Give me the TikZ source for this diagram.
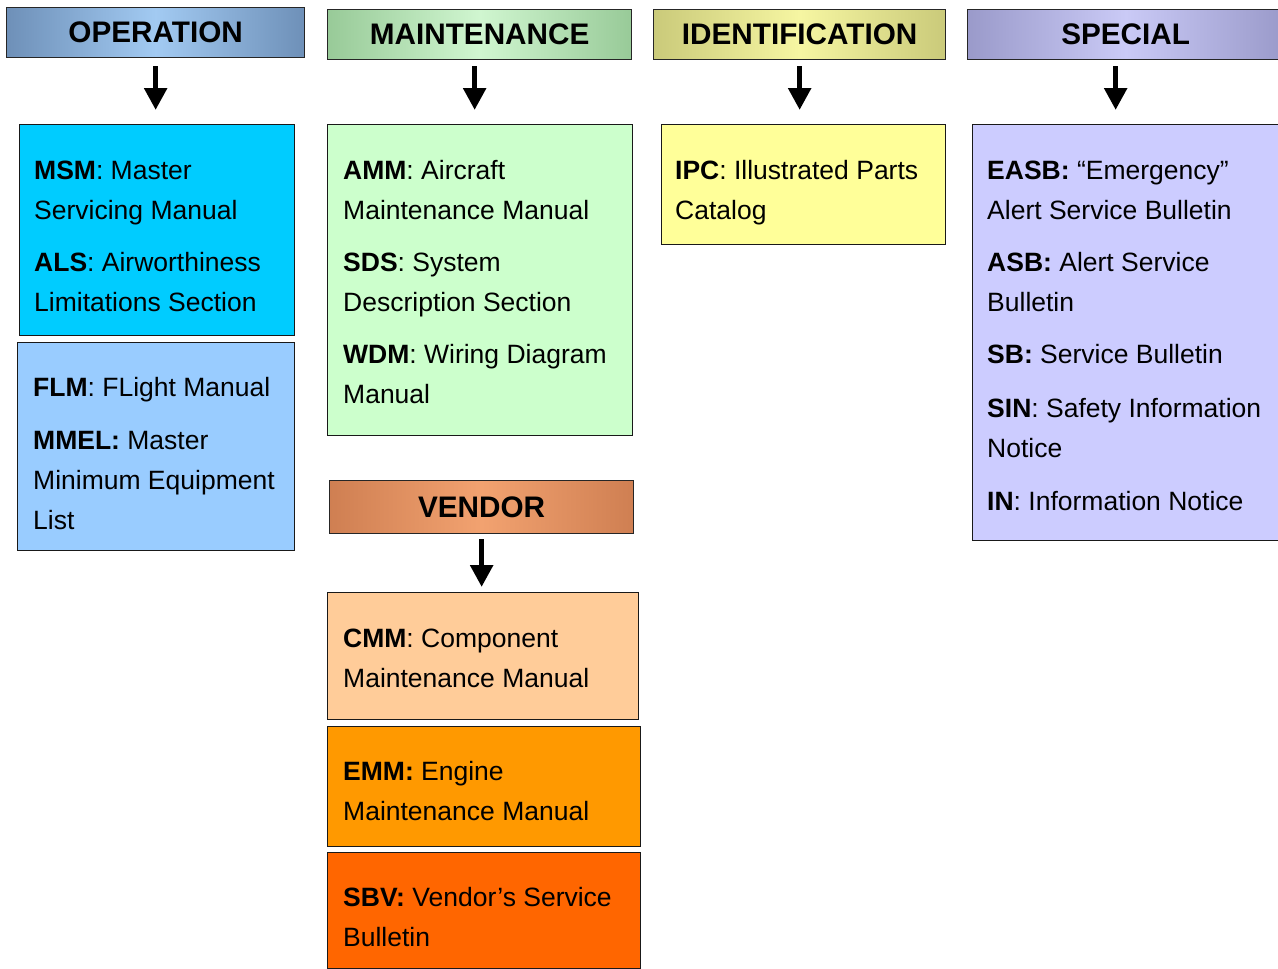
\documentclass[tikz,border=0pt]{standalone}
\usepackage{fontspec}
\setmainfont{Liberation Sans}
\usetikzlibrary{arrows.meta}
\definecolor{opE}{RGB}{110,144,184}
\definecolor{opM}{RGB}{162,202,242}
\definecolor{maE}{RGB}{152,202,152}
\definecolor{maM}{RGB}{208,246,208}
\definecolor{idE}{RGB}{202,202,122}
\definecolor{idM}{RGB}{246,246,162}
\definecolor{spE}{RGB}{154,154,202}
\definecolor{spM}{RGB}{202,202,246}
\definecolor{veE}{RGB}{207,127,82}
\definecolor{veM}{RGB}{242,162,112}
\definecolor{cMSM}{HTML}{00CCFF}
\definecolor{cFLM}{HTML}{99CCFF}
\definecolor{cAMM}{HTML}{CCFFCC}
\definecolor{cIPC}{HTML}{FFFF99}
\definecolor{cEASB}{HTML}{CCCCFF}
\definecolor{cCMM}{HTML}{FFCC99}
\definecolor{cEMM}{HTML}{FF9900}
\definecolor{cSBV}{HTML}{FF6600}
\begin{document}
\begin{tikzpicture}[x=1pt,y=-1pt]
\tikzset{
  hdr/.style={draw=black!85, line width=1.3pt, anchor=north west, inner sep=0pt,
    font=\fontsize{29.7}{32}\selectfont\bfseries, text=black},
  box/.style={draw=black!90, line width=1.3pt, anchor=north west, inner sep=0pt},
  txt/.style={anchor=north west, inner sep=0pt, align=left,
    font=\fontsize{26.5}{40}\selectfont},
  arr/.style={line width=5.5pt, -{Triangle[width=22pt,length=22pt]}},
}
\clip (0,0) rectangle (1278,969);
\fill[white] (0,0) rectangle (1278,969);
% headers
\node[hdr, minimum width=298pt, minimum height=50pt, left color=opE, right color=opE, middle color=opM] (hop) at (6,7) {OPERATION};
\node[hdr, minimum width=304pt, minimum height=50pt, left color=maE, right color=maE, middle color=maM] (hma) at (327,9) {MAINTENANCE};
\node[hdr, minimum width=292pt, minimum height=50pt, left color=idE, right color=idE, middle color=idM] (hid) at (653,9) {IDENTIFICATION};
\node[hdr, minimum width=316pt, minimum height=50pt, left color=spE, right color=spE, middle color=spM] (hsp) at (967,9) {SPECIAL};
\node[hdr, minimum width=304pt, minimum height=53pt, left color=veE, right color=veE, middle color=veM] (hve) at (329,480) {VENDOR};
% boxes
\node[box, fill=cMSM, minimum width=275pt, minimum height=211pt] (bmsm) at (19,124) {};
\node[box, fill=cFLM, minimum width=277pt, minimum height=208pt] (bflm) at (17,342) {};
\node[box, fill=cAMM, minimum width=305pt, minimum height=311pt] (bamm) at (327,124) {};
\node[box, fill=cIPC, minimum width=284pt, minimum height=120pt] (bipc) at (661,124) {};
\node[box, fill=cEASB, minimum width=320pt, minimum height=416pt] (beasb) at (972,124) {};
\node[box, fill=cCMM, minimum width=311pt, minimum height=127pt] (bcmm) at (327,592) {};
\node[box, fill=cEMM, minimum width=313pt, minimum height=120pt] (bemm) at (327,726) {};
\node[box, fill=cSBV, minimum width=313pt, minimum height=116pt] (bsbv) at (327,852) {};
% texts
\node[txt] (tmsm) at (34,160.5) {\textbf{MSM}: Master\\Servicing Manual\\[12pt]\textbf{ALS}: Airworthiness\\Limitations Section};
\node[txt] (tflm) at (33,377.5) {\textbf{FLM}: FLight Manual\\[13pt]\textbf{MMEL:} Master\\Minimum Equipment\\List};
\node[txt] (tamm) at (343,160.5) {\textbf{AMM}: Aircraft\\Maintenance Manual\\[12pt]\textbf{SDS}: System\\Description Section\\[12pt]\textbf{WDM}: Wiring Diagram\\Manual};
\node[txt] (tipc) at (675,160.5) {\textbf{IPC}: Illustrated Parts\\Catalog};
\node[txt] (teasb) at (987,160.5) {\textbf{EASB:} “Emergency”\\Alert Service Bulletin\\[12pt]\textbf{ASB:} Alert Service\\Bulletin\\[12pt]\textbf{SB:} Service Bulletin\\[14pt]\textbf{SIN}: Safety Information\\Notice\\[13pt]\textbf{IN}: Information Notice};
\node[txt] (tcmm) at (343,628.5) {\textbf{CMM}: Component\\Maintenance Manual};
\node[txt] (temm) at (343,761.5) {\textbf{EMM:} Engine\\Maintenance Manual};
\node[txt] (tsbv) at (343,887.5) {\textbf{SBV:} Vendor’s Service\\Bulletin};
% arrows
\draw[arr, shorten <=8pt, shorten >=14pt] (hop.south) -- (hop.south |- bmsm.north);
\draw[arr, shorten <=6pt, shorten >=14pt] ([xshift=-5pt]hma.south) -- ([xshift=-5pt]hma.south |- bamm.north);
\draw[arr, shorten <=6pt, shorten >=14pt] (hid.south) -- (hid.south |- bipc.north);
\draw[arr, shorten <=6pt, shorten >=14pt] ([xshift=-10pt]hsp.south) -- ([xshift=-10pt]hsp.south |- beasb.north);
\draw[arr, shorten <=5pt, shorten >=5pt] (hve.south) -- (hve.south |- bcmm.north);
\end{tikzpicture}
\end{document}
